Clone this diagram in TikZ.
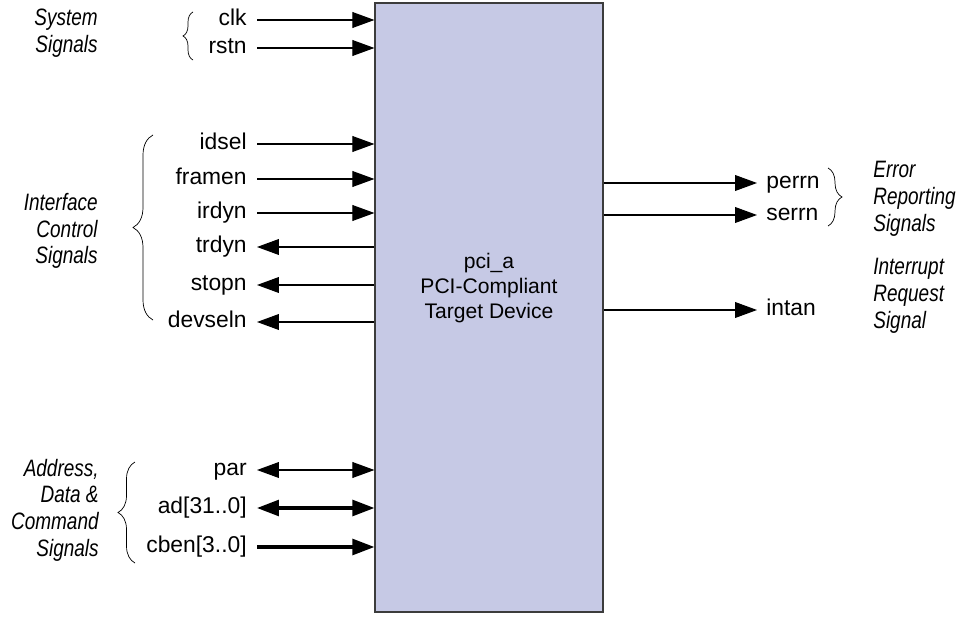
\documentclass[tikz,border=0pt]{standalone}
\usepackage{fontspec}
\setmainfont{Liberation Sans}
\newfontfamily\groupfont{Liberation Sans}[FakeStretch=0.8]
\usetikzlibrary{arrows.meta,decorations.pathreplacing}

\definecolor{devfill}{RGB}{198,201,229}
\definecolor{devline}{RGB}{60,60,60}

\tikzset{
	sig/.style={inner xsep=0.2cm,inner ysep=0pt,text height=8.6pt,text depth=2.6pt,font=\fontsize{13}{15}\selectfont},
	group/.style={inner sep=0pt,font=\groupfont\fontsize{13.5}{15.2}\selectfont\itshape},
	wire/.style={line width=0.6pt},
	bus/.style={line width=1.8pt},
	tip/.tip={Triangle[length=12.5pt,width=9pt]},
	curly/.style={thin,decorate,decoration={brace,amplitude=#1}}
}

\begin{document}
\begin{tikzpicture}[x=0.02cm,y=0.02cm]
	\useasboundingbox (0,0) rectangle (970,616);

	\node[draw=devline,fill=devfill,line width=0.7pt,minimum width=4.56cm,minimum height=12.18cm] (dev) at (489,308.5) {};
	\node[align=center,font=\fontsize{12}{14}\selectfont] (devlabel) at (489,328) {pci\_a\\PCI-Compliant\\Target Device};

	% signals on the left
	\begin{scope}[every node/.style={sig,anchor=east}]
		\node (clk) at (257,596) {clk};
		\node (rstn) at (257,568) {rstn};
		\node (idsel) at (257,472) {idsel};
		\node (framen) at (257,437) {framen};
		\node (irdyn) at (257,403) {irdyn};
		\node (trdyn) at (257,369) {trdyn};
		\node (stopn) at (257,331) {stopn};
		\node (devseln) at (257,294) {devseln};
		\node (par) at (257,146) {par};
		\node (ad) at (257,108) {ad[31..0]};
		\node (cben) at (257,69) {cben[3..0]};
	\end{scope}

	% signals on the right
	\begin{scope}[every node/.style={sig,anchor=west,inner xsep=0.18cm}]
		\node (perrn) at (757,433) {perrn};
		\node (serrn) at (757,401) {serrn};
		\node (intan) at (757,306) {intan};
	\end{scope}

	\begin{scope}[wire]
		\draw[-tip] (clk.east) -- (clk.east -| dev.west);
		\draw[-tip] (rstn.east) -- (rstn.east -| dev.west);
		\draw[-tip] (idsel.east) -- (idsel.east -| dev.west);
		\draw[-tip] (framen.east) -- (framen.east -| dev.west);
		\draw[-tip] (irdyn.east) -- (irdyn.east -| dev.west);
		\draw[tip-] (trdyn.east) -- (trdyn.east -| dev.west);
		\draw[tip-] (stopn.east) -- (stopn.east -| dev.west);
		\draw[tip-] (devseln.east) -- (devseln.east -| dev.west);
		\draw[tip-tip] (par.east) -- (par.east -| dev.west);

		\draw[-tip] (perrn.west -| dev.east) -- (perrn.west);
		\draw[-tip] (serrn.west -| dev.east) -- (serrn.west);
		\draw[-tip] (intan.west -| dev.east) -- (intan.west);
	\end{scope}
	\draw[bus,tip-tip] (ad.east) -- (ad.east -| dev.west);
	\draw[bus,-tip] (cben.east) -- (cben.east -| dev.west);

	% braces and group names
	\coordinate (sysbot) at (193,556);
	\coordinate (systop) at (193,604);
	\coordinate (ifbot) at (153,296);
	\coordinate (iftop) at (153,481);
	\coordinate (adbot) at (135,53);
	\coordinate (adtop) at (135,154);
	\coordinate (errtop) at (828,448);
	\coordinate (errbot) at (828,390);

	\draw[curly=0.2cm] (sysbot) -- (systop);
	\draw[curly=0.4cm] (ifbot) -- (iftop);
	\draw[curly=0.34cm] (adbot) -- (adtop);
	\draw[curly=0.28cm] (errtop) -- (errbot);

	\node[group,anchor=east,align=right] (sysname) at (98,583) {System\\Signals};
	\node[group,anchor=east,align=right] (ifname) at (98,385) {Interface\\Control\\Signals};
	\node[group,anchor=east,align=right] (adname) at (99,106) {Address,\\Data \&\\Command\\Signals};
	\node[group,anchor=west,align=left] (errname) at (873,417) {Error\\Reporting\\Signals};
	\node[group,anchor=west,align=left] (intname) at (873,320) {Interrupt\\Request\\Signal};
\end{tikzpicture}
\end{document}
